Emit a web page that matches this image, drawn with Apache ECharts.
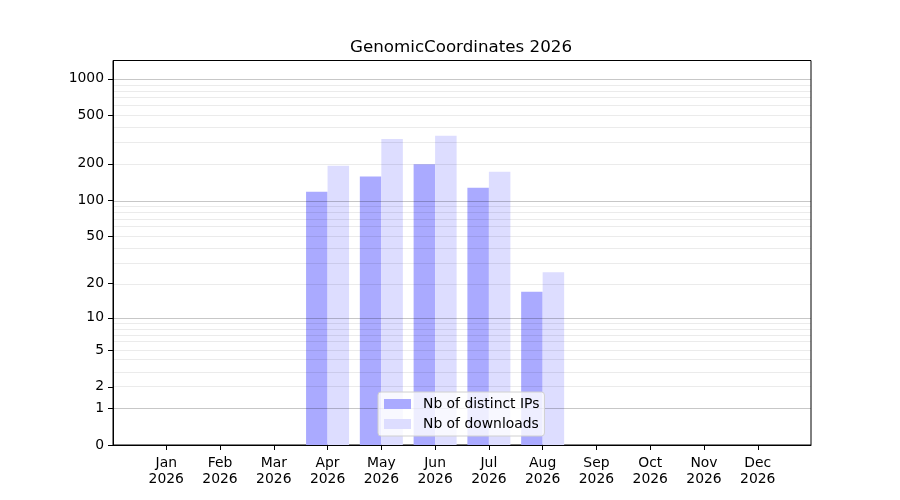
<!DOCTYPE html>
<html>
<head>
<meta charset="utf-8">
<script src="https://cdn.jsdelivr.net/npm/echarts@6/dist/echarts.min.js"></script>
<style>html,body{margin:0;padding:0;background:#fff}#c{width:900px;height:500px}</style>
</head>
<body>
<div id="c"></div>
<script>
const months = ['Jan','Feb','Mar','Apr','May','Jun','Jul','Aug','Sep','Oct','Nov','Dec'];
const yearLabel = '2026';
const distinctIPs = [0,0,0,118,157,199,127,17,0,0,0,0];
const downloads = [0,0,0,193,321,340,172,25,0,0,0,0];
const yTickValues = [0,1,2,5,10,20,50,100,200,500,1000];
const majorGrid = [1,10,100,1000];
const minorGrid = [2,3,4,5,6,7,8,9,20,30,40,50,60,70,80,90,200,300,400,500,600,700,800,900];

const tf = v => Math.log10(v + 1);
const FONT = 'DejaVu Sans';

const chart = echarts.init(document.getElementById('c'), null, {renderer:'canvas'});
chart.setOption({
  animation: false,
  backgroundColor: '#fff',
  textStyle: {fontFamily: FONT},
  title: {
    text: 'GenomicCoordinates 2026',
    left: 456, top: 34, textAlign: 'center',
    textStyle: {fontFamily: FONT, fontSize: 16.7, fontWeight: 'normal', color: '#000'}
  },
  grid: {left: 113, right: 89, top: 60.5, bottom: 55, show: true, borderColor: '#000', borderWidth: 1, backgroundColor: 'transparent'},
  legend: {
    orient: 'vertical', left: 378, top: 392,
    data: ['Nb of distinct IPs', 'Nb of downloads'],
    itemWidth: 27, itemHeight: 10, itemGap: 6,
    icon: 'rect',
    backgroundColor: 'rgba(255,255,255,0.8)',
    borderColor: '#d0d0d0', borderWidth: 1, borderRadius: 3,
    padding: [5, 5, 5, 6],
    textStyle: {fontFamily: FONT, fontSize: 13.9, color: '#000', padding: [0,0,0,7]},
    z: 10
  },
  xAxis: {
    type: 'value', min: -0.99, max: 11.99,
    axisLine: {show: true, onZero: false, lineStyle: {color: '#000', width: 1}},
    axisTick: {show: true, length: 5, customValues: months.map((m,i)=>i), lineStyle: {color:'#000'}},
    axisLabel: {
      customValues: months.map((m,i)=>i), margin: 10,
      fontFamily: FONT, fontSize: 13.9, color: '#000', lineHeight: 16.5,
      formatter: v => months[Math.round(v)] + '\n' + yearLabel
    },
    splitLine: {show: false}
  },
  yAxis: {
    type: 'value', min: 0, max: 3.15,
    axisLine: {show: true, onZero: false, lineStyle: {color: '#000', width: 1}},
    axisTick: {show: true, inside: false, length: 5, customValues: yTickValues.map(tf), lineStyle: {color:'#000'}},
    axisLabel: {
      customValues: yTickValues.map(tf), margin: 9,
      fontFamily: FONT, fontSize: 13.9, color: '#000',
      formatter: v => String(Math.round(Math.pow(10, v) - 1))
    },
    splitLine: {show: false}
  },
  series: [
    {
      name: 'Nb of distinct IPs', type: 'bar',
      data: distinctIPs.map((v,i)=>[i, tf(v)]),
      barWidth: 21.5, barGap: '0%',
      itemStyle: {color: '#aaaaff'}, z: 2
    },
    {
      name: 'Nb of downloads', type: 'bar',
      data: downloads.map((v,i)=>[i, tf(v)]),
      barWidth: 21.5, barGap: '0%',
      itemStyle: {color: '#ddddff'}, z: 2
    },
    {
      name: 'grid', type: 'line', data: [], z: 5, silent: true,
      markLine: {
        silent: true, symbol: ['none','none'], animation: false,
        label: {show: false},
        data: [
          ...minorGrid.map(v => ({yAxis: tf(v), lineStyle: {color: 'rgba(0,0,0,0.08)', width: 1, type: 'solid'}})),
          ...majorGrid.map(v => ({yAxis: tf(v), lineStyle: {color: 'rgba(0,0,0,0.22)', width: 1, type: 'solid'}}))
        ]
      }
    }
  ]
});
</script>
</body>
</html>
